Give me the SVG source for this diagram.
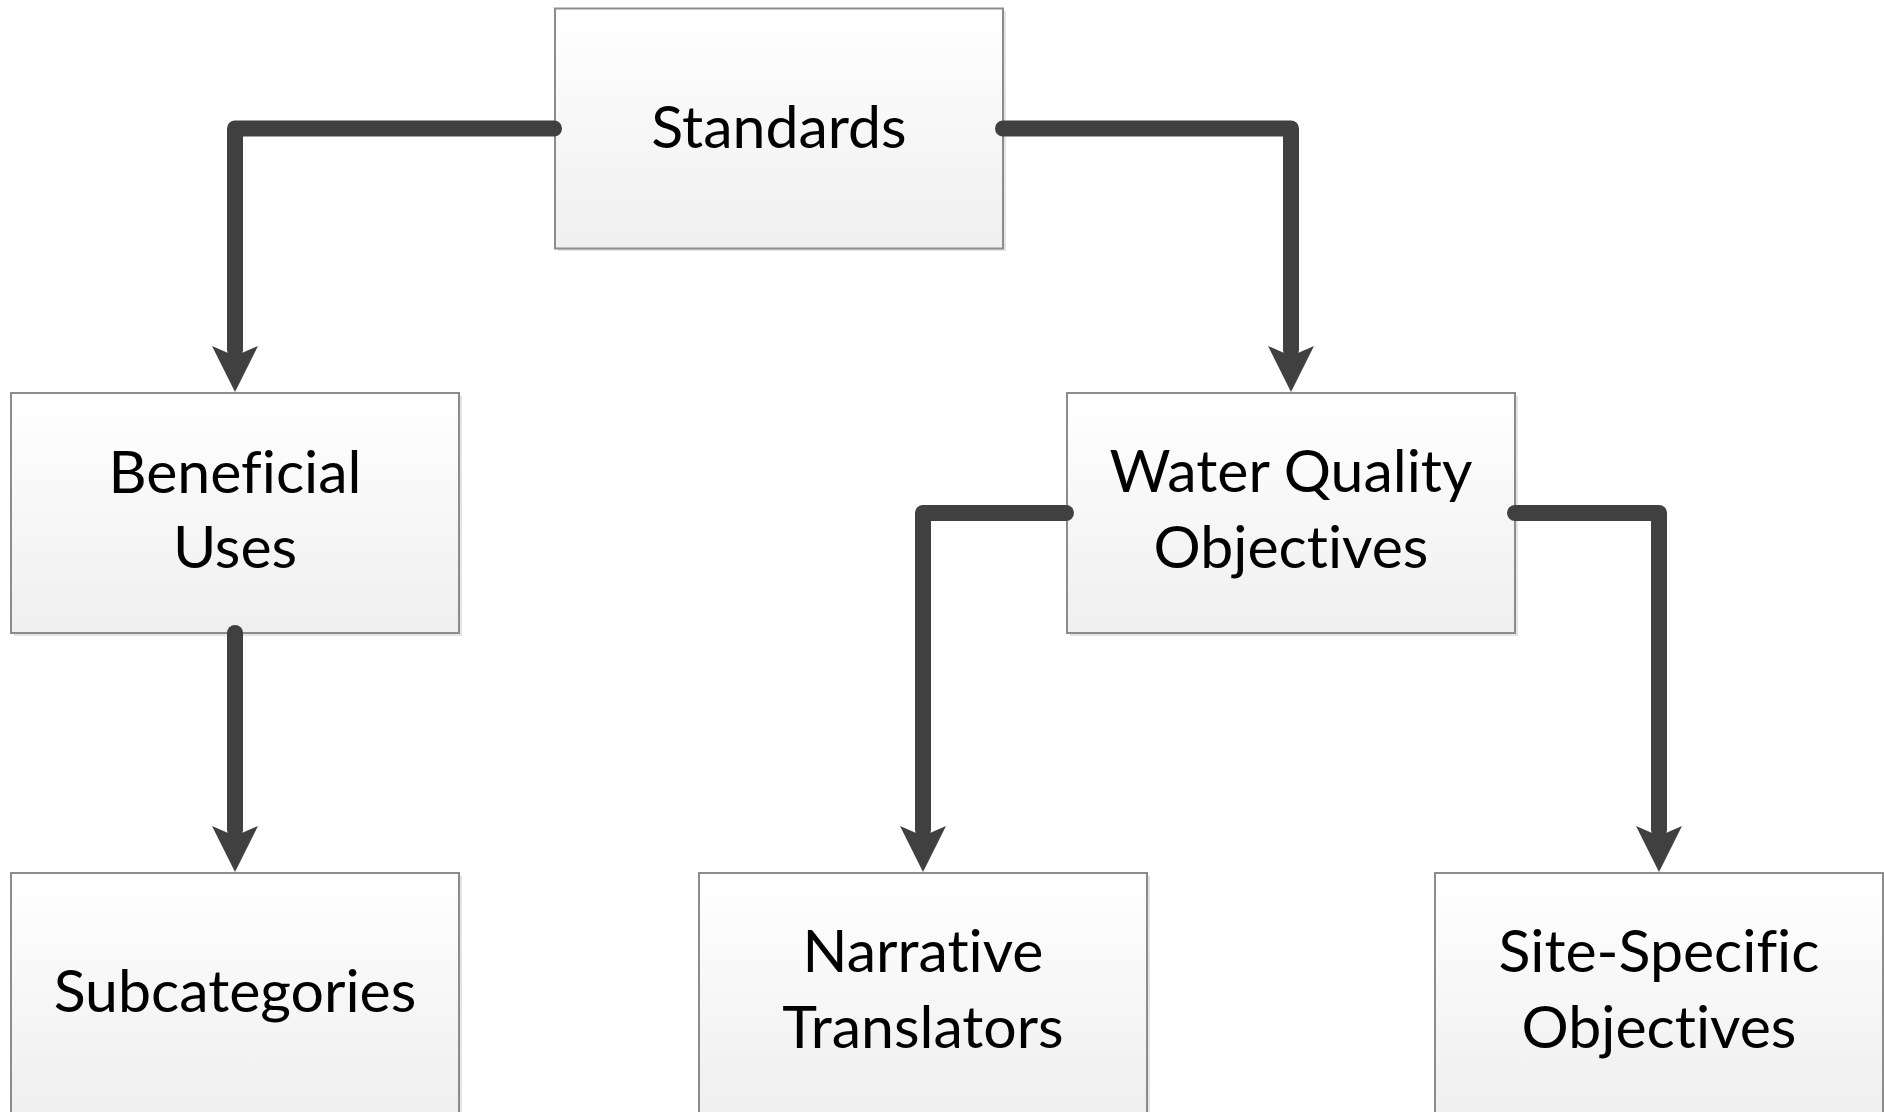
<svg xmlns="http://www.w3.org/2000/svg" width="1884" height="1112" viewBox="0 0 1884 1112">
<defs>
<linearGradient id="g" x1="0" y1="0" x2="0" y2="1">
<stop offset="0" stop-color="#ffffff"/>
<stop offset="1" stop-color="#efefef"/>
</linearGradient>
</defs>
<style>
.box{fill:url(#g);stroke:#8c8c8c;stroke-width:2}
.sh{fill:#e4e4e4}
.t{font-family:Lato,"Liberation Sans",sans-serif;font-size:59px;fill:#000;text-anchor:middle;font-variant-ligatures:none;font-feature-settings:"liga" 0,"dlig" 0}
.c{fill:none;stroke:#404040;stroke-width:16;stroke-linecap:round;stroke-linejoin:round}
.ah{fill:#404040}
</style>
<rect width="1884" height="1112" fill="#fff"/>
<g id="standards">
<rect class="sh" x="558" y="11" width="448" height="240"/>
<rect class="box" x="555" y="8.5" width="448" height="240"/>
<text class="t" x="779" y="148">Standards</text>
</g>
<g id="beneficial-uses">
<rect class="sh" x="14" y="396" width="448" height="240"/>
<rect class="box" x="11" y="393" width="448" height="240"/>
<text class="t" x="235" y="493">Beneficial</text>
<text class="t" x="235" y="568">Uses</text>
</g>
<g id="water-quality-objectives">
<rect class="sh" x="1070" y="396" width="448" height="240"/>
<rect class="box" x="1067" y="393" width="448" height="240"/>
<text class="t" x="1291" y="492">Water Quality</text>
<text class="t" x="1291" y="568">Objectives</text>
</g>
<g id="subcategories">
<rect class="sh" x="14" y="876" width="448" height="240"/>
<rect class="box" x="11" y="873" width="448" height="240"/>
<text class="t" x="235" y="1012">Subcategories</text>
</g>
<g id="narrative-translators">
<rect class="sh" x="702" y="876" width="448" height="240"/>
<rect class="box" x="699" y="873" width="448" height="240"/>
<text class="t" x="923" y="972">Narrative</text>
<text class="t" x="923" y="1048">Translators</text>
</g>
<g id="site-specific-objectives">
<rect class="sh" x="1438" y="876" width="448" height="240"/>
<rect class="box" x="1435" y="873" width="448" height="240"/>
<text class="t" x="1659" y="972">Site-Specific</text>
<text class="t" x="1659" y="1048">Objectives</text>
</g>
<g id="connectors">
<path class="c" d="M554,128.5 H235 V350"/>
<polygon class="ah" points="235,392 212,346 235,356 258,346"/>
<path class="c" d="M1003,128.5 H1291 V350"/>
<polygon class="ah" points="1291,392 1268,346 1291,356 1314,346"/>
<path class="c" d="M235,633 V830"/>
<polygon class="ah" points="235,872 212,826 235,836 258,826"/>
<path class="c" d="M1066,513 H923 V830"/>
<polygon class="ah" points="923,872 900,826 923,836 946,826"/>
<path class="c" d="M1515,513 H1659 V830"/>
<polygon class="ah" points="1659,872 1636,826 1659,836 1682,826"/>
</g>
</svg>
